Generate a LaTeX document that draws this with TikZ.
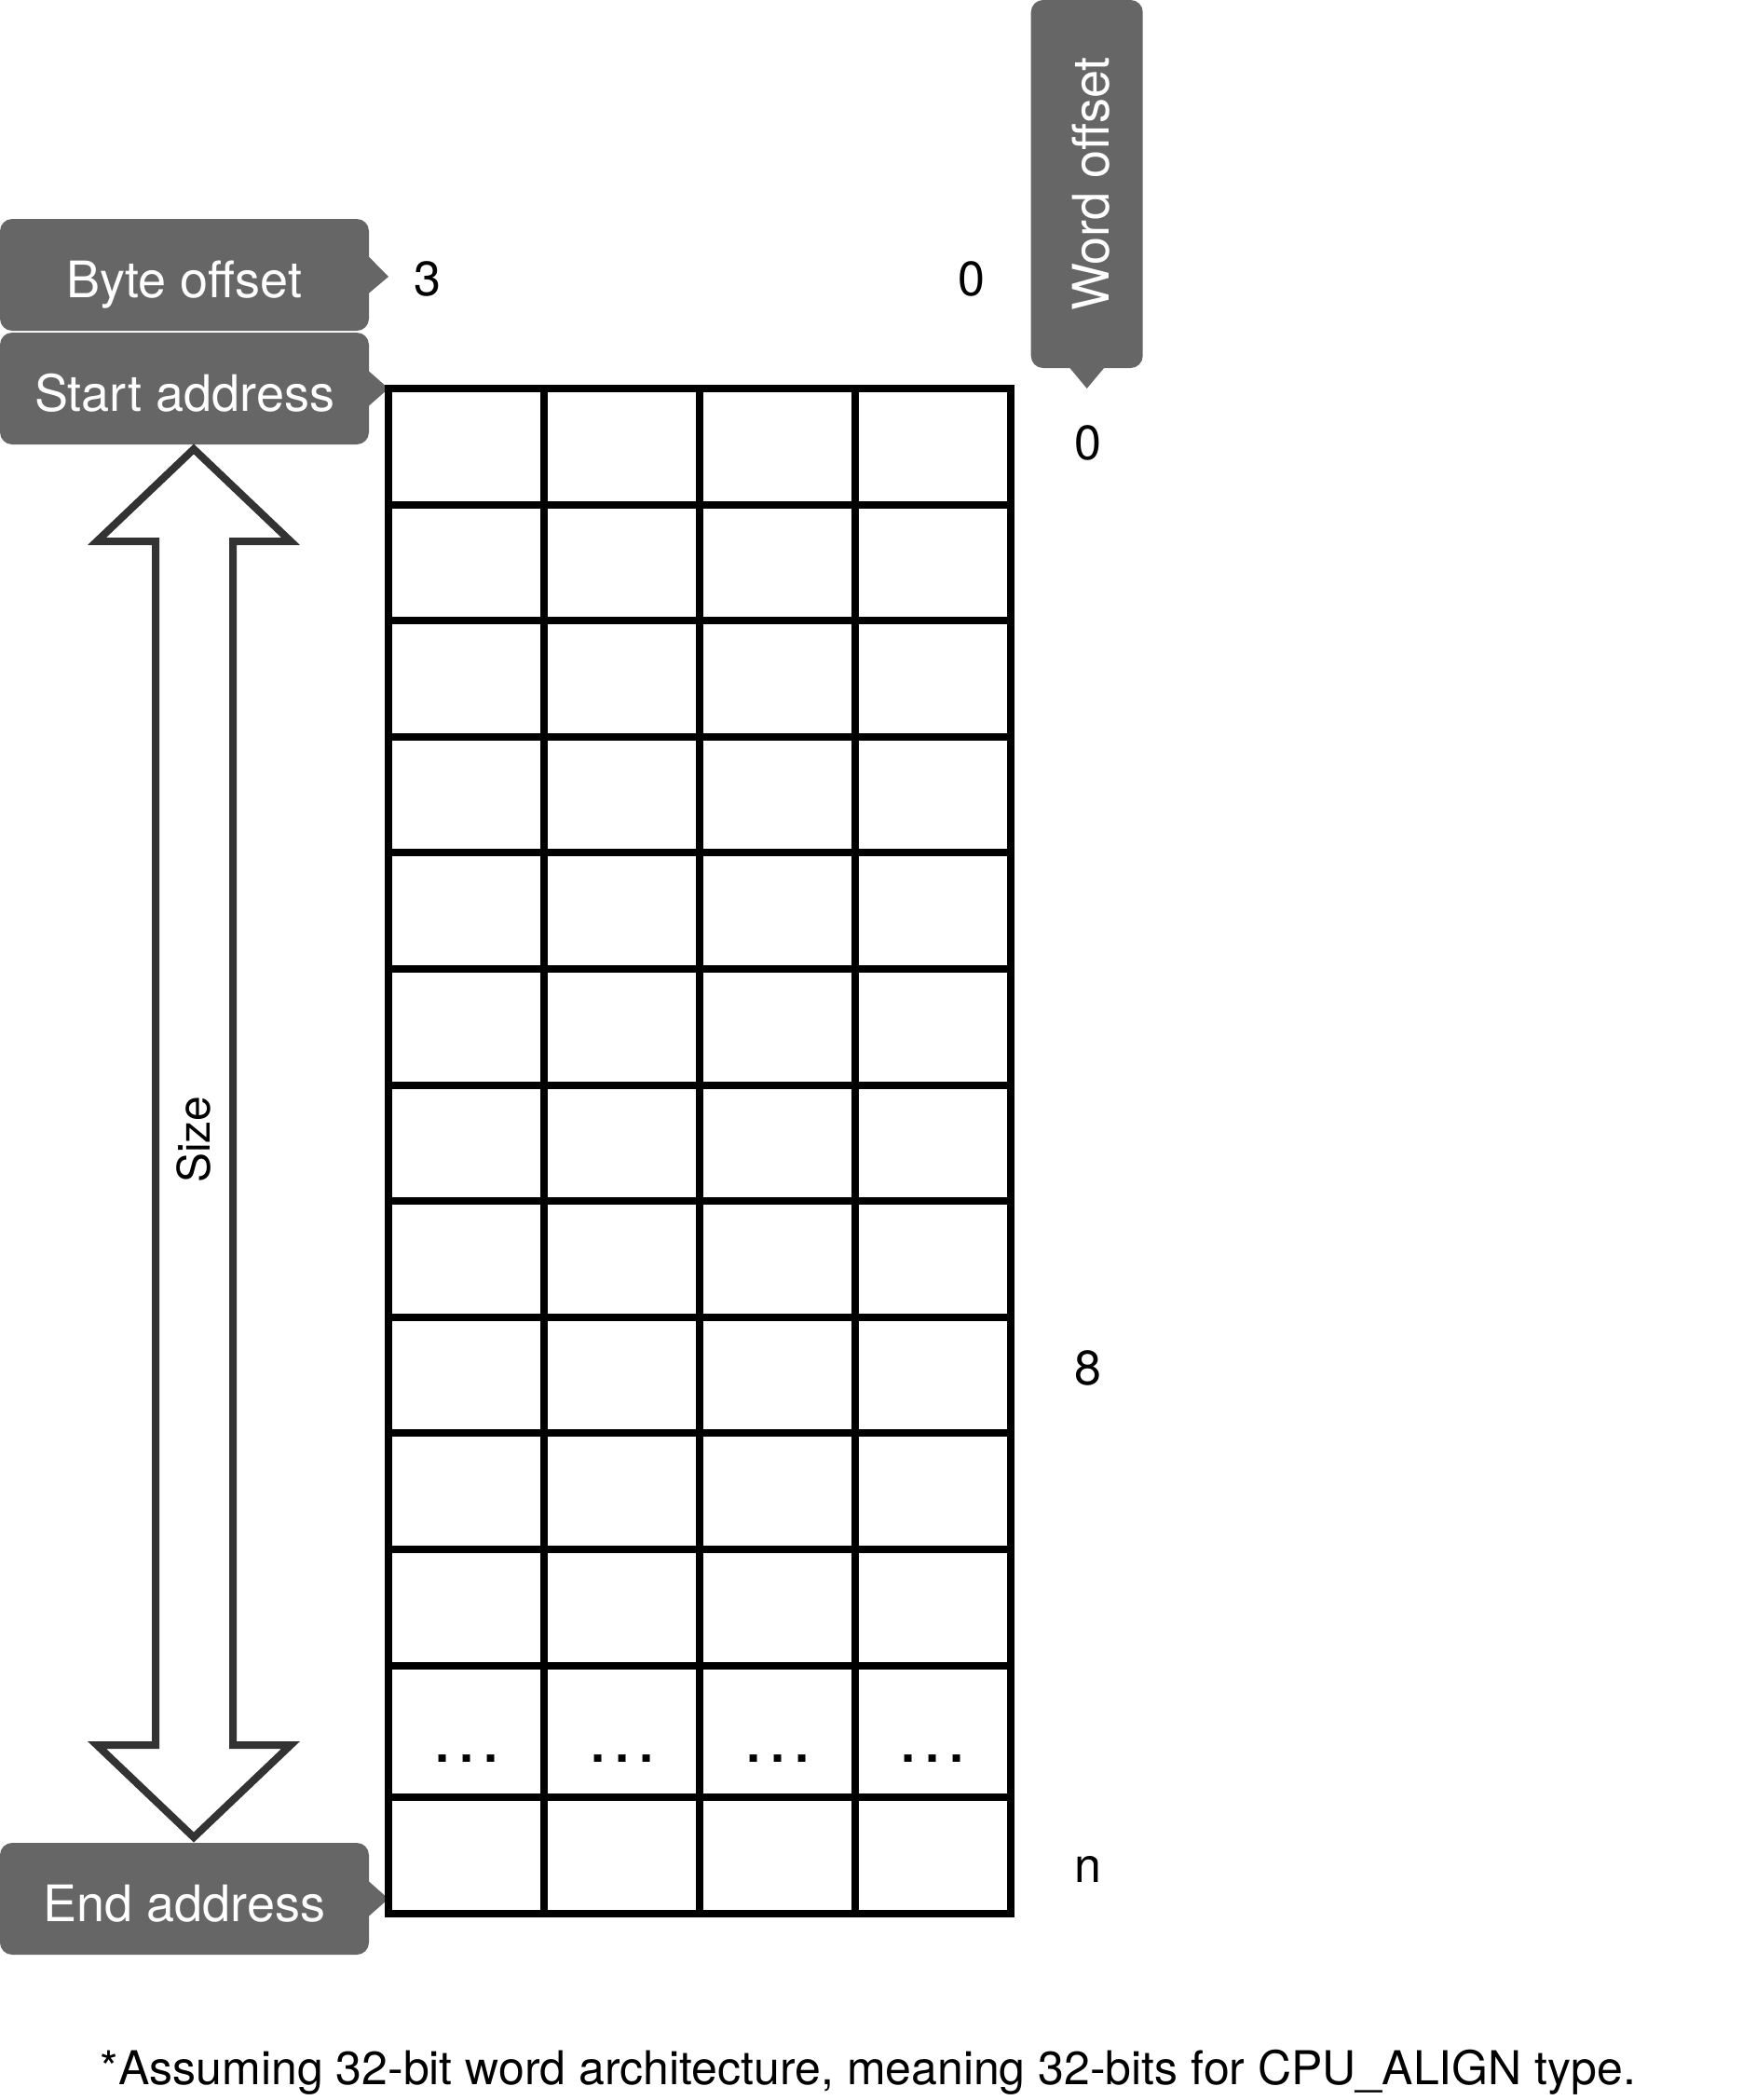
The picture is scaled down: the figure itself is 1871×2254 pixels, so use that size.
\documentclass[tikz,border=0pt]{standalone}
\usepackage{fontspec}
\setmainfont{TeX Gyre Heros}
\definecolor{tagfill}{HTML}{666666}
\definecolor{sizeline}{HTML}{333333}
\begin{document}
\begin{tikzpicture}[x=0.5pt, y=-0.5pt,
  tag/.style={fill=tagfill, text=white, rounded corners=6.5pt, inner sep=0pt,
    minimum width=198pt, minimum height=60pt, text height=24pt, text depth=0pt,
    font=\fontsize{27}{32}\selectfont},
  tagtip/.style={fill=tagfill},
  idx/.style={inner sep=0pt, font=\fontsize{26}{31}\selectfont},
  cell/.style={line width=4pt, black},
  dotstext/.style={inner sep=0pt, font=\fontsize{38}{40}\selectfont}]

\useasboundingbox (0,0) rectangle (1871,2254);

% callouts on the left
\node[tag] (byteoff) at (198,295) {Byte offset};
\node[tag] (startaddr) at (198,417) {Start address};
\node[tag] (endaddr) at (198,2038) {End address};
\node[tag, rotate=90, minimum width=197.5pt, minimum height=60pt] (wordoff) at (1166.7,197.5) {Word offset};

\coordinate (bytetip) at (417,297);
\coordinate (starttip) at (417,417);
\coordinate (endtip) at (417,2038);
\coordinate (wordtip) at (1166.7,417);

\fill[tagtip] ([xshift=-1pt, yshift=10.5pt]byteoff.east) -- (bytetip) -- ([xshift=-1pt, yshift=-10.5pt]byteoff.east) -- cycle;
\fill[tagtip] ([xshift=-1pt, yshift=10pt]startaddr.east) -- (starttip) -- ([xshift=-1pt, yshift=-10pt]startaddr.east) -- cycle;
\fill[tagtip] ([xshift=-1pt, yshift=10pt]endaddr.east) -- (endtip) -- ([xshift=-1pt, yshift=-10pt]endaddr.east) -- cycle;
\fill[tagtip] (1146.7,393) -- (wordtip) -- (1186.7,393) -- cycle;

% size arrow
\draw[sizeline, fill=white, line width=4pt, miter limit=10]
  (208,482) -- (104,581) -- (167,581) -- (167,1873) -- (104,1873) -- (208,1972)
  -- (312,1873) -- (250,1873) -- (250,581) -- (312,581) -- cycle;
\node[rotate=90, inner sep=0pt, font=\fontsize{24}{29}\selectfont] (size) at (208,1223) {Size};

% byte and word offsets
\node[idx] (byte3) at (459,299) {3};
\node[idx] (byte0) at (1043,299) {0};
\node[idx] (word0) at (1168,475) {0};
\node[idx] (word8) at (1168,1468) {8};
\node[idx] (wordn) at (1168,2006) {n};

% memory grid
\draw[cell] (417,417) rectangle (1085,2054);
\foreach \x in {584,751,918}
\draw[cell] (\x,417) -- (\x,2054);
\foreach \k in {1,...,11}
\draw[cell] (417,{417+124.6*\k}) -- (1085,{417+124.6*\k});
\draw[cell] (417,1929) -- (1085,1929);

\foreach \x in {501,668,835,1001}
\node[dotstext] (dots\x) at (\x,1888) {.\kern2.4pt.\kern2.4pt.};

\node[inner sep=0pt, font=\fontsize{25}{30}\selectfont] (note) at (932,2224)
  {*Assuming 32-bit word architecture, meaning 32-bits for CPU\_ALIGN type.};
\end{tikzpicture}
\end{document}
